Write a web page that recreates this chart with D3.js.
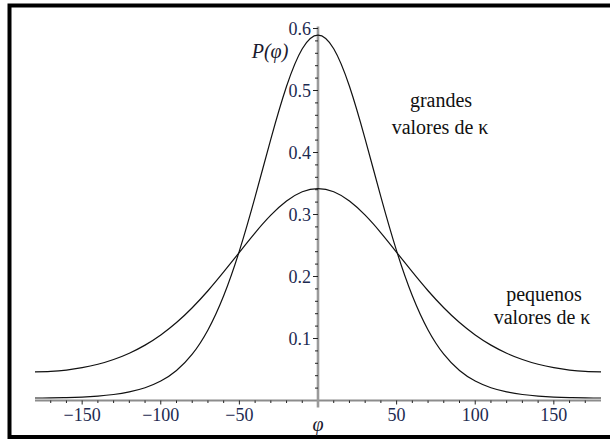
<!DOCTYPE html>
<html>
<head>
<meta charset="utf-8">
<script src="https://cdn.jsdelivr.net/npm/d3@7"></script>
<style>
    body { margin: 0; background: #fff; }
    svg { display: block; }
</style>
</head>
<body>
<svg width="610" height="441"></svg>
<script>
// angle samples (degrees) and the two densities
const phi = [-180, -170, -160, -150, -140, -130, -120, -110, -100, -90, -80, -70, -60, -50, -40, -30, -20, -10,
    0, 10, 20, 30, 40, 50, 60, 70, 80, 90, 100, 110, 120, 130, 140, 150, 160, 170, 180];

const grandes = [0.0040, 0.0041, 0.0046, 0.0055, 0.0071, 0.0097, 0.0139, 0.0206, 0.0313, 0.0484, 0.0747, 0.1138,
    0.1689, 0.2413, 0.3284, 0.4217, 0.5069, 0.5674, 0.5894, 0.5674, 0.5069, 0.4217, 0.3284, 0.2413, 0.1689,
    0.1138, 0.0747, 0.0484, 0.0313, 0.0206, 0.0139, 0.0097, 0.0071, 0.0055, 0.0046, 0.0041, 0.0040];

const pequenos = [0.0463, 0.0470, 0.0491, 0.0529, 0.0584, 0.0661, 0.0763, 0.0893, 0.1057, 0.1257, 0.1496, 0.1770,
    0.2073, 0.2391, 0.2705, 0.2989, 0.3217, 0.3366, 0.3418, 0.3366, 0.3217, 0.2989, 0.2705, 0.2391, 0.2073,
    0.1770, 0.1496, 0.1257, 0.1057, 0.0893, 0.0763, 0.0661, 0.0584, 0.0529, 0.0491, 0.0470, 0.0463];

const xMajor = [-150, -100, -50, 50, 100, 150];
const xMinor = [-170, -160, -140, -130, -120, -110, -90, -80, -70, -60, -40, -30, -20, -10,
    10, 20, 30, 40, 60, 70, 80, 90, 110, 120, 130, 140, 160, 170];
const yMajor = [0.1, 0.2, 0.3, 0.4, 0.5, 0.6];
const yMinor = [0.02, 0.04, 0.06, 0.08, 0.12, 0.14, 0.16, 0.18, 0.22, 0.24, 0.26, 0.28,
    0.32, 0.34, 0.36, 0.38, 0.42, 0.44, 0.46, 0.48, 0.52, 0.54, 0.56, 0.58];

const serif = '"Liberation Serif", "Times New Roman", Times, "DejaVu Serif", serif';
const svg = d3.select('svg');

// frame (right edge is cut off in the original)
svg.append('rect')
    .attr('x', 9.5).attr('y', 5.5)
    .attr('width', 610).attr('height', 431.5)
    .attr('fill', 'none').attr('stroke', '#000').attr('stroke-width', 4);

const x = d3.scaleLinear().domain([-180, 180]).range([35, 601]);
const y = d3.scaleLinear().domain([0, 0.6]).range([400.5, 28.5]);
const x0 = x(0);
const tickColor = '#1d2a50';

// axis lines
svg.append('line')
    .attr('x1', x(-180)).attr('x2', x(180))
    .attr('y1', y(0)).attr('y2', y(0))
    .attr('stroke', '#8c8c8c').attr('stroke-width', 2.2);
svg.append('line')
    .attr('x1', x0).attr('x2', x0)
    .attr('y1', y(0.6) - 2).attr('y2', y(0) + 7)
    .attr('stroke', '#9a9a9a').attr('stroke-width', 2.6);

// x ticks
svg.append('g').selectAll('line')
    .data(xMinor)
    .enter().append('line')
    .attr('x1', d => x(d)).attr('x2', d => x(d))
    .attr('y1', y(0)).attr('y2', y(0) + 2.5)
    .attr('stroke', '#222').attr('stroke-width', 1);
svg.append('g').selectAll('line')
    .data(xMajor)
    .enter().append('line')
    .attr('x1', d => x(d)).attr('x2', d => x(d))
    .attr('y1', y(0)).attr('y2', y(0) + 4)
    .attr('stroke', '#222').attr('stroke-width', 1);
svg.append('g').selectAll('text')
    .data(xMajor)
    .enter().append('text')
    .attr('x', d => x(d)).attr('y', y(0) + 20)
    .attr('text-anchor', 'middle')
    .style('font-family', serif)
    .style('font-size', '18px')
    .attr('fill', tickColor)
    .text(d => String(d).replace('-', '\u2212'));

// y ticks
svg.append('g').selectAll('line')
    .data(yMinor)
    .enter().append('line')
    .attr('x1', x0 - 3).attr('x2', x0)
    .attr('y1', d => y(d)).attr('y2', d => y(d))
    .attr('stroke', '#222').attr('stroke-width', 1);
svg.append('g').selectAll('line')
    .data(yMajor)
    .enter().append('line')
    .attr('x1', x0 - 5).attr('x2', x0)
    .attr('y1', d => y(d)).attr('y2', d => y(d))
    .attr('stroke', '#222').attr('stroke-width', 1);
svg.append('g').selectAll('text')
    .data(yMajor)
    .enter().append('text')
    .attr('x', x0 - 7).attr('y', d => y(d) + 6)
    .attr('text-anchor', 'end')
    .style('font-family', serif)
    .style('font-size', '18px')
    .attr('fill', tickColor)
    .text(d => d3.format('.1f')(d));

// curves
const line = d3.line()
    .x((d, i) => x(phi[i]))
    .y(d => y(d))
    .curve(d3.curveNatural);

svg.append('path').datum(pequenos)
    .attr('d', line)
    .attr('fill', 'none').attr('stroke', '#111').attr('stroke-width', 1.2);
svg.append('path').datum(grandes)
    .attr('d', line)
    .attr('fill', 'none').attr('stroke', '#111').attr('stroke-width', 1.2);

// labels
svg.append('text')
    .attr('x', 270).attr('y', 58)
    .attr('text-anchor', 'middle')
    .style('font-family', serif)
    .style('font-size', '20px').style('font-style', 'italic')
    .attr('fill', '#1a1a2e')
    .text('P(\u03C6)');
svg.append('text')
    .attr('x', x0).attr('y', 431)
    .attr('text-anchor', 'middle')
    .style('font-family', serif)
    .style('font-size', '20px').style('font-style', 'italic')
    .attr('fill', '#1a1a2e')
    .text('\u03C6');

const notes = [
    { x: 441, y: 107, t: 'grandes' },
    { x: 440, y: 134, t: 'valores de \u03BA' },
    { x: 544, y: 301, t: 'pequenos' },
    { x: 542, y: 324, t: 'valores de \u03BA' }
];
svg.append('g').selectAll('text')
    .data(notes)
    .enter().append('text')
    .attr('x', d => d.x).attr('y', d => d.y)
    .attr('text-anchor', 'middle')
    .style('font-family', serif)
    .style('font-size', '20px')
    .attr('fill', '#111')
    .text(d => d.t);
</script>
</body>
</html>
